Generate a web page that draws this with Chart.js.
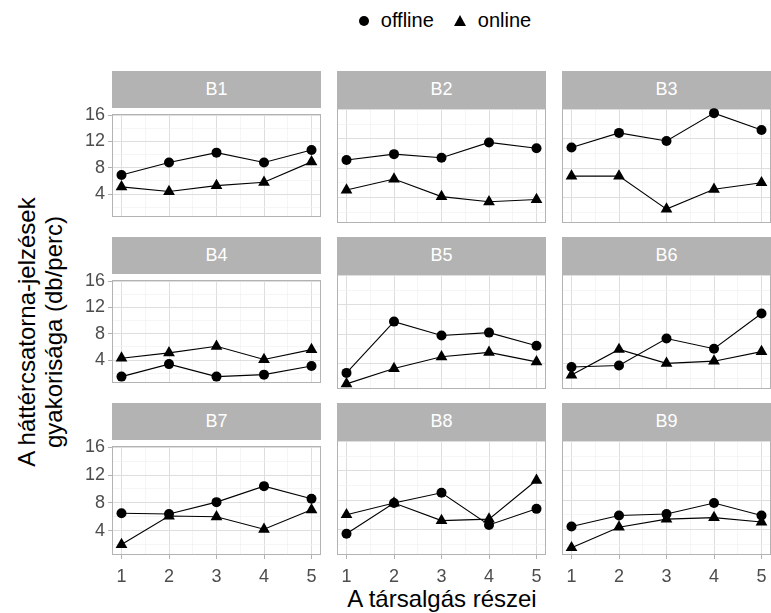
<!DOCTYPE html>
<html><head><meta charset="utf-8">
<script src="https://cdn.jsdelivr.net/npm/chart.js@4.4.0/dist/chart.umd.min.js"></script>
<style>
html,body{margin:0;padding:0;background:#fff;overflow:hidden;width:771px;height:613px;font-family:"Liberation Sans",Arial,sans-serif}
.strip{position:absolute;background:#b3b3b3;color:#fff;font-size:18px;text-align:center;}
.wrap{position:absolute}
#legend{position:absolute;top:8px;left:0;width:890px;text-align:center;font-size:20px;color:#000;white-space:nowrap}
#legend span{display:inline-block;vertical-align:middle}
.dot{width:10px;height:10px;border-radius:50%;background:#000;margin-right:12px}
.tri{width:0;height:0;border-left:6px solid transparent;border-right:6px solid transparent;border-bottom:11px solid #000;margin-left:20px;margin-right:12px}
#ytitle{position:absolute;left:-160px;top:305px;width:400px;height:54px;line-height:27px;font-size:24px;text-align:center;transform:rotate(-90deg);color:#000}
#xtitle{position:absolute;left:192px;width:500px;top:585px;font-size:24px;text-align:center;color:#000}
</style></head><body>
<div id="legend"><span class="dot"></span><span>offline</span><span class="tri"></span><span>online</span></div>
<div id="ytitle">A háttércsatorna-jelzések<br>gyakorisága (db/perc)</div>
<div id="xtitle">A társalgás részei</div>
<script>
// ---- data ----
const panelNames = ['B1','B2','B3','B4','B5','B6','B7','B8','B9'];
const parts = [1, 2, 3, 4, 5];
const xTickLabels = ['1','2','3','4','5'];
const yTickLabels = ['4','8','12','16'];
const offlineValues = [
  [6.9, 8.8, 10.3, 8.8, 10.7],
  [9.1, 9.9, 9.4, 11.5, 10.7],
  [10.8, 12.8, 11.7, 15.5, 13.2],
  [1.5, 3.4, 1.5, 1.8, 3.1],
  [2.7, 9.7, 7.8, 8.2, 6.4],
  [3.5, 3.7, 7.4, 6.0, 10.8],
  [6.5, 6.4, 8.1, 10.4, 8.6],
  [3.4, 7.6, 9.0, 4.6, 6.8],
  [4.4, 5.9, 6.1, 7.6, 5.9]
];
const onlineValues = [
  [5.1, 4.4, 5.3, 5.8, 8.9],
  [5.0, 6.5, 4.1, 3.4, 3.7],
  [6.9, 6.9, 2.4, 5.1, 6.0],
  [4.3, 5.1, 6.1, 4.1, 5.6],
  [1.2, 3.3, 4.9, 5.5, 4.2],
  [2.4, 5.9, 4.0, 4.3, 5.6],
  [2.0, 6.1, 6.0, 4.2, 7.0],
  [6.0, 7.6, 5.2, 5.4, 10.7],
  [1.5, 4.3, 5.4, 5.6, 5.0]
];

// ---- layout ----
const plotLefts = [112, 337, 562];
const plotW = 209;
const stripTops = [71, 237, 403];
const stripH = 37;
const plotH = 115;
const LW = 45, BH = 38, P = 8;

const majorY = yTickLabels.map(Number);
const yGrid = [2,4,6,8,10,12,14,16];
const xGrid = [1,1.5,2,2.5,3,3.5,4,4.5,5];

const borderPlugin = {
  id: 'panelBorder',
  beforeDatasetsDraw(chart) {
    const {ctx, chartArea: a} = chart;
    ctx.save();
    ctx.strokeStyle = '#b3b3b3';
    ctx.lineWidth = 1;
    ctx.strokeRect(Math.round(a.left) + 0.5, Math.round(a.top) + 0.5, Math.round(a.right - a.left) - 1, Math.round(a.bottom - a.top) - 1);
    ctx.restore();
  }
};

panelNames.forEach((name, i) => {
  const r = Math.floor(i / 3), c = i % 3;
  const left = plotLefts[c], top = stripTops[r] + stripH;
  const strip = document.createElement('div');
  strip.className = 'strip';
  strip.style.left = left + 'px';
  strip.style.top = stripTops[r] + 'px';
  strip.style.width = plotW + 'px';
  strip.style.height = stripH + 'px';
  strip.style.lineHeight = stripH + 'px';
  strip.textContent = name;
  document.body.appendChild(strip);

  const showY = c === 0, showX = r === 2;
  const w = plotW + (showY ? LW : 0) + 2 * P;
  const h = plotH + (showX ? BH : 0) + 2 * P;
  const wrap = document.createElement('div');
  wrap.className = 'wrap';
  wrap.style.left = (left - (showY ? LW : 0) - P) + 'px';
  wrap.style.top = (top - P) + 'px';
  const cv = document.createElement('canvas');
  cv.width = w; cv.height = h;
  cv.style.width = w + 'px'; cv.style.height = h + 'px';
  wrap.appendChild(cv);
  document.body.appendChild(wrap);

  const font = {size: 18, family: '"Liberation Sans", Arial, sans-serif'};
  new Chart(cv, {
    type: 'line',
    data: {
      datasets: [
        {
          label: 'offline',
          data: parts.map((x, j) => ({x, y: offlineValues[i][j]})),
          borderColor: '#000', borderWidth: 1.1,
          pointStyle: 'circle', pointRadius: 5,
          pointBackgroundColor: '#000', pointBorderColor: '#000', pointBorderWidth: 0,
          clip: false
        },
        {
          label: 'online',
          data: parts.map((x, j) => ({x, y: onlineValues[i][j]})),
          borderColor: '#000', borderWidth: 1.1,
          pointStyle: 'triangle', pointRadius: 6.8,
          pointBackgroundColor: '#000', pointBorderColor: '#000', pointBorderWidth: 0,
          clip: false
        }
      ]
    },
    plugins: [borderPlugin],
    options: {
      responsive: false,
      devicePixelRatio: 1,
      animation: false,
      events: [],
      layout: {padding: P},
      plugins: {legend: {display: false}, tooltip: {enabled: false}},
      scales: {
        x: {
          type: 'linear', min: 0.8, max: 5.2,
          afterBuildTicks: s => { s.ticks = xGrid.map(v => ({value: v})); },
          afterFit: s => { s.height = showX ? BH : 0; },
          border: {display: false},
          grid: {
            color: ctx => Number.isInteger(ctx.tick.value) ? '#dedede' : '#efefef',
            lineWidth: ctx => Number.isInteger(ctx.tick.value) ? 1 : 0.6,
            drawTicks: showX, tickLength: 4,
            tickColor: ctx => Number.isInteger(ctx.tick.value) ? '#b3b3b3' : 'rgba(0,0,0,0)',
            tickWidth: 1
          },
          ticks: {
            display: showX, autoSkip: false, maxRotation: 0, padding: 7,
            color: '#4d4d4d', font,
            callback: v => { const k = parts.indexOf(v); return k >= 0 ? xTickLabels[k] : ''; }
          }
        },
        y: {
          type: 'linear', min: 0.5, max: 16.2,
          afterBuildTicks: s => { s.ticks = yGrid.map(v => ({value: v})); },
          afterFit: s => { s.width = showY ? LW : 0; },
          border: {display: false},
          grid: {
            color: ctx => majorY.includes(ctx.tick.value) ? '#dedede' : '#efefef',
            lineWidth: ctx => majorY.includes(ctx.tick.value) ? 1 : 0.6,
            drawTicks: showY, tickLength: 4,
            tickColor: ctx => majorY.includes(ctx.tick.value) ? '#b3b3b3' : 'rgba(0,0,0,0)',
            tickWidth: 1
          },
          ticks: {
            display: showY, autoSkip: false, padding: 3,
            color: '#4d4d4d', font,
            callback: v => { const k = majorY.indexOf(v); return k >= 0 ? yTickLabels[k] : ''; }
          }
        }
      }
    }
  });
});
</script>
</body></html>
